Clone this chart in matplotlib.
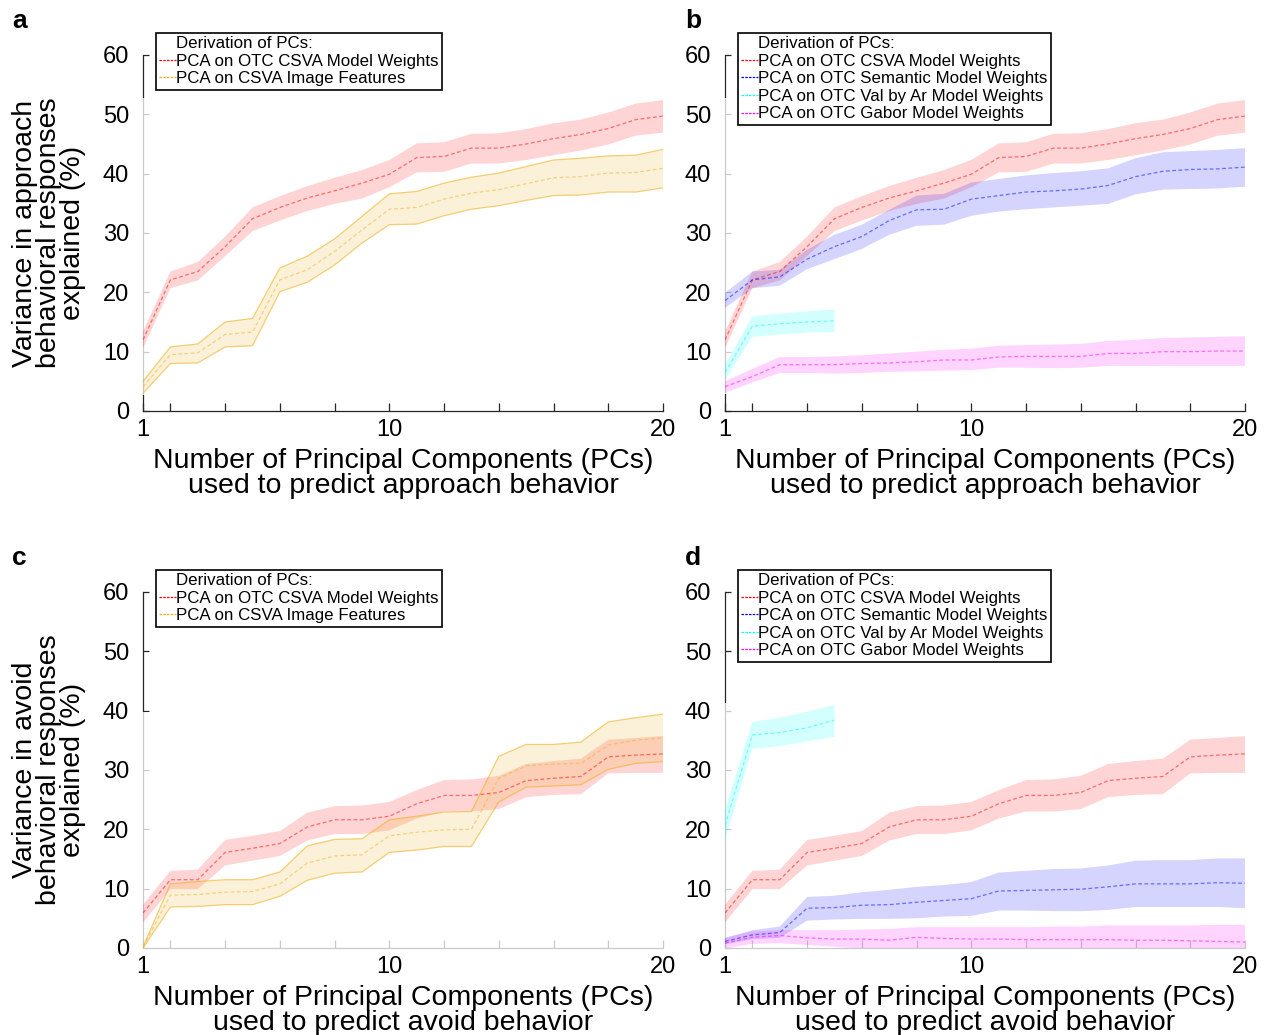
import matplotlib.pyplot as plt
import numpy as np
from matplotlib.lines import Line2D
from matplotlib.patches import Rectangle

plt.rcParams['font.family'] = ['Liberation Sans', 'DejaVu Sans']

n_pcs = np.arange(1, 21)
n_pcs_valar = np.arange(1, 6)

# --- approach behaviour: variance explained (%) ---
app_csva_mean = [12.0, 22.1, 23.5, 27.7, 32.4, 34.3, 35.9, 37.1, 38.4, 39.9,
                 42.7, 42.9, 44.3, 44.3, 45.0, 45.9, 46.6, 47.6, 49.1, 49.7]
app_csva_hi = [13.4, 23.5, 25.1, 29.4, 34.3, 36.2, 37.9, 39.3, 40.6, 42.3,
               45.1, 45.3, 46.7, 46.8, 47.5, 48.5, 49.1, 50.3, 51.8, 52.4]
app_csva_lo = [10.6, 20.7, 22.0, 26.1, 30.3, 32.1, 33.7, 34.9, 35.8, 37.7,
               40.2, 40.3, 41.7, 41.7, 42.3, 43.1, 43.9, 44.9, 46.4, 46.9]

app_img_mean = [4.1, 9.5, 9.8, 12.9, 13.3, 22.1, 23.8, 26.9, 30.5, 34.0,
                34.3, 35.7, 36.7, 37.3, 38.3, 39.3, 39.5, 40.1, 40.2, 40.9]
app_img_hi = [5.0, 10.8, 11.3, 15.0, 15.6, 24.1, 26.1, 29.0, 32.8, 36.6,
              37.0, 38.4, 39.4, 40.1, 41.2, 42.3, 42.6, 43.0, 43.1, 44.1]
app_img_lo = [3.0, 8.0, 8.1, 10.8, 11.0, 20.1, 21.7, 24.6, 28.3, 31.4,
              31.5, 32.9, 34.0, 34.6, 35.5, 36.3, 36.4, 36.9, 36.9, 37.6]

app_sem_mean = [18.6, 22.1, 22.6, 25.6, 27.7, 29.4, 32.1, 33.9, 34.0, 35.7,
                36.3, 36.9, 37.1, 37.4, 38.0, 39.5, 40.4, 40.7, 40.8, 41.1]
app_sem_hi = [19.9, 23.5, 23.8, 27.2, 29.7, 31.4, 33.9, 36.3, 36.6, 38.5,
              39.1, 39.7, 40.1, 40.4, 40.9, 42.6, 43.6, 43.8, 44.0, 44.3]
app_sem_lo = [17.4, 20.7, 21.1, 23.9, 25.6, 27.3, 29.7, 31.2, 31.4, 32.9,
              33.6, 34.0, 34.3, 34.6, 34.9, 36.5, 37.3, 37.4, 37.5, 37.8]

app_valar_mean = [6.5, 14.3, 14.7, 15.0, 15.2]
app_valar_hi = [7.8, 16.0, 16.4, 16.8, 17.1]
app_valar_lo = [5.2, 12.5, 12.9, 13.2, 13.3]

app_gabor_mean = [4.1, 5.8, 7.8, 7.8, 7.8, 8.0, 8.1, 8.3, 8.6, 8.6,
                  9.1, 9.2, 9.2, 9.2, 9.7, 9.7, 10.0, 10.0, 10.1, 10.1]
app_gabor_hi = [5.0, 7.1, 9.1, 9.1, 9.2, 9.4, 9.7, 10.0, 10.3, 10.5,
                11.0, 11.1, 11.2, 11.3, 11.8, 12.0, 12.3, 12.4, 12.5, 12.6]
app_gabor_lo = [3.1, 4.8, 6.4, 6.4, 6.3, 6.4, 6.6, 6.7, 6.8, 6.9,
                7.3, 7.3, 7.2, 7.3, 7.6, 7.6, 7.6, 7.6, 7.6, 7.6]

# --- avoid behaviour: variance explained (%) ---
avd_csva_mean = [5.9, 11.5, 11.5, 16.1, 16.8, 17.6, 20.4, 21.6, 21.6, 22.2,
                 24.3, 25.7, 25.7, 26.2, 28.2, 28.6, 28.9, 32.2, 32.5, 32.7]
avd_csva_hi = [7.3, 13.0, 13.2, 18.2, 18.9, 19.7, 22.8, 23.9, 24.0, 24.6,
               26.6, 28.3, 28.4, 29.0, 31.0, 31.5, 31.9, 35.1, 35.4, 35.7]
avd_csva_lo = [4.3, 9.9, 9.9, 13.9, 14.7, 15.5, 18.1, 19.2, 19.2, 19.8,
               21.8, 23.0, 23.0, 23.4, 25.4, 25.8, 25.9, 29.4, 29.5, 29.5]

avd_img_mean = [0.2, 8.9, 9.0, 9.4, 9.5, 10.8, 14.3, 15.5, 15.7, 18.9,
                19.5, 19.9, 20.0, 28.6, 30.7, 31.0, 31.1, 34.2, 35.0, 35.4]
avd_img_hi = [0.2, 10.8, 11.2, 11.5, 11.5, 12.8, 17.2, 18.3, 18.4, 21.6,
              22.2, 22.9, 23.0, 32.3, 34.3, 34.3, 34.7, 38.1, 38.8, 39.4]
avd_img_lo = [0.0, 6.9, 7.0, 7.3, 7.3, 8.7, 11.4, 12.6, 12.8, 16.1,
              16.5, 17.1, 17.1, 24.6, 27.1, 27.3, 27.5, 30.1, 31.1, 31.4]

avd_sem_mean = [1.1, 2.2, 2.6, 6.7, 6.8, 7.2, 7.3, 7.7, 8.0, 8.3,
                9.6, 9.7, 9.8, 9.9, 10.3, 10.8, 10.8, 10.8, 11.0, 10.9]
avd_sem_hi = [1.7, 3.0, 3.6, 8.6, 8.8, 9.4, 9.8, 10.3, 10.6, 11.1,
              12.7, 13.0, 13.3, 13.4, 13.9, 14.7, 14.8, 14.8, 15.1, 15.1]
avd_sem_lo = [0.6, 1.5, 1.7, 4.6, 4.8, 4.9, 4.9, 5.0, 5.3, 5.4,
              6.3, 6.3, 6.2, 6.2, 6.4, 6.9, 6.9, 6.9, 6.9, 6.7]

avd_valar_mean = [20.7, 35.9, 36.3, 37.1, 38.4]
avd_valar_hi = [23.3, 38.1, 38.8, 39.8, 41.0]
avd_valar_lo = [18.2, 33.6, 34.0, 34.8, 35.6]

avd_gabor_mean = [0.8, 1.8, 2.1, 1.7, 1.5, 1.5, 1.3, 1.8, 1.6, 1.5,
                  1.5, 1.4, 1.4, 1.4, 1.4, 1.3, 1.3, 1.2, 1.1, 1.0]
avd_gabor_hi = [1.7, 2.8, 3.0, 3.0, 3.0, 3.1, 3.2, 3.5, 3.5, 3.5,
                3.5, 3.5, 3.6, 3.6, 3.8, 3.8, 3.8, 3.8, 3.9, 3.9]
avd_gabor_lo = [-0.1, 0.7, 0.8, 0.5, 0.2, -0.1, -0.5, 0.0, -0.3, -0.5,
                -0.5, -0.7, -0.8, -0.8, -1.0, -1.2, -1.2, -1.4, -1.7, -1.9]

LBL_CSVA = 'PCA on OTC CSVA Model Weights'
LBL_IMG = 'PCA on CSVA Image Features'
LBL_SEM = 'PCA on OTC Semantic Model Weights'
LBL_VALAR = 'PCA on OTC Val by Ar Model Weights'
LBL_GABOR = 'PCA on OTC Gabor Model Weights'

RED = (1.0, 0.0, 0.0)
BLUE = (0.0, 0.0, 1.0)
CYAN = (0.0, 1.0, 1.0)
MAGENTA = (1.0, 0.0, 1.0)
ORANGE = (0.929, 0.694, 0.125)
AXCOL = '#262626'


def draw_band(ax, x, mean, lo, hi, color, edges=False):
    ax.fill_between(x, lo, hi, facecolor=color, alpha=0.17, lw=0, zorder=2)
    if edges:
        ax.plot(x, lo, color=color, lw=0.9, alpha=0.6, zorder=2.5)
        ax.plot(x, hi, color=color, lw=0.9, alpha=0.6, zorder=2.5)
    ax.plot(x, mean, color=color, lw=0.9, ls=(0, (3, 2)), alpha=0.5, zorder=3)


def style_axes(ax, series, ylabel=None, behavior='approach'):
    ax.set_xlim(1, 20)
    ax.set_ylim(0, 60)
    ax.set_xticks([1, 2, 4, 6, 8, 10, 12, 14, 16, 18, 20])
    ax.set_xticklabels(['1', '', '', '', '', '10', '', '', '', '', '20'])
    ax.set_yticks(np.arange(0, 61, 10))
    ax.tick_params(axis='both', direction='in', colors=AXCOL, labelsize=17,
                   labelcolor='black', width=0.9)
    ax.tick_params(axis='x', length=5.5, pad=6)
    ax.tick_params(axis='y', length=4, pad=10)
    for side in ('top', 'right'):
        ax.spines[side].set_visible(False)
    for side in ('left', 'bottom'):
        ax.spines[side].set_color(AXCOL)
        ax.spines[side].set_linewidth(0.9)
        ax.spines[side].set_zorder(0.5)
    ax.set_axisbelow(True)

    # white veil over the region spanned by the shaded bands
    lows = min(min(s[2]) for s in series)
    highs = max(max(s[3]) for s in series)
    y0 = max(lows, 0) - 0.3
    veil = Rectangle((0.85, y0), 19.3, highs + 0.3 - y0, facecolor='white',
                     edgecolor='none', alpha=0.76, zorder=1, clip_on=False)
    ax.add_patch(veil)

    for x, mean, lo, hi, color, label, edges in series:
        draw_band(ax, x, mean, lo, hi, color, edges)

    handles = [Line2D([], [], ls='none', label='Derivation of PCs:')]
    for s in series:
        handles.append(Line2D([], [], color=s[4], lw=0.9, ls=(0, (2, 1)), label=s[5]))
    leg = ax.legend(handles=handles, loc='upper left', bbox_to_anchor=(0.025, 1.062),
                    borderaxespad=0, fontsize=12.2, handlelength=0.95,
                    handletextpad=0.05, labelspacing=0.15, borderpad=0.2,
                    fancybox=False, framealpha=1, edgecolor='black')
    leg.get_frame().set_linewidth(1.2)

    ax.set_xlabel('Number of Principal Components (PCs)\nused to predict %s behavior' % behavior,
                  fontsize=20.5, linespacing=0.95)
    ax.xaxis.set_label_coords(0.5, -0.104)
    if ylabel:
        ax.set_ylabel(ylabel, fontsize=20.5, linespacing=0.9)
        ax.yaxis.set_label_coords(-0.11, 0.5)


fig = plt.figure(figsize=(12.66, 10.35), dpi=100)
ax_a = fig.add_axes([0.1130, 0.6029, 0.4107, 0.3440])
ax_b = fig.add_axes([0.5727, 0.6029, 0.4107, 0.3440])
ax_c = fig.add_axes([0.1130, 0.0841, 0.4107, 0.3440])
ax_d = fig.add_axes([0.5727, 0.0841, 0.4107, 0.3440])

style_axes(ax_a, [
    (n_pcs, app_csva_mean, app_csva_lo, app_csva_hi, RED, LBL_CSVA, False),
    (n_pcs, app_img_mean, app_img_lo, app_img_hi, ORANGE, LBL_IMG, True),
], ylabel='Variance in approach\nbehavioral responses\nexplained (%)', behavior='approach')

style_axes(ax_b, [
    (n_pcs, app_csva_mean, app_csva_lo, app_csva_hi, RED, LBL_CSVA, False),
    (n_pcs, app_sem_mean, app_sem_lo, app_sem_hi, BLUE, LBL_SEM, False),
    (n_pcs_valar, app_valar_mean, app_valar_lo, app_valar_hi, CYAN, LBL_VALAR, False),
    (n_pcs, app_gabor_mean, app_gabor_lo, app_gabor_hi, MAGENTA, LBL_GABOR, False),
], behavior='approach')

style_axes(ax_c, [
    (n_pcs, avd_csva_mean, avd_csva_lo, avd_csva_hi, RED, LBL_CSVA, False),
    (n_pcs, avd_img_mean, avd_img_lo, avd_img_hi, ORANGE, LBL_IMG, True),
], ylabel='Variance in avoid\nbehavioral responses\nexplained (%)', behavior='avoid')

style_axes(ax_d, [
    (n_pcs, avd_csva_mean, avd_csva_lo, avd_csva_hi, RED, LBL_CSVA, False),
    (n_pcs, avd_sem_mean, avd_sem_lo, avd_sem_hi, BLUE, LBL_SEM, False),
    (n_pcs_valar, avd_valar_mean, avd_valar_lo, avd_valar_hi, CYAN, LBL_VALAR, False),
    (n_pcs, avd_gabor_mean, avd_gabor_lo, avd_gabor_hi, MAGENTA, LBL_GABOR, False),
], behavior='avoid')

for letter, x, y in [('a', 0.0095, 0.973), ('b', 0.541, 0.973),
                     ('c', 0.0095, 0.454), ('d', 0.541, 0.454)]:
    fig.text(x, y, letter, fontsize=19, fontweight='bold', va='baseline')

fig.savefig('out.png', dpi=100)
